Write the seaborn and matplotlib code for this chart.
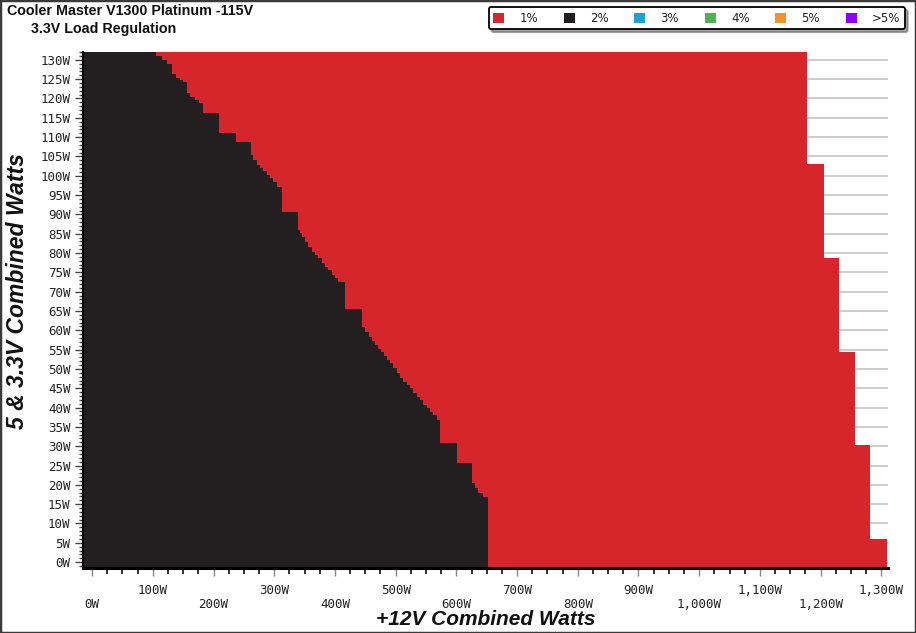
import numpy as np
import pandas as pd
import seaborn as sns
import matplotlib.pyplot as plt
from matplotlib.patches import Patch, Rectangle
from matplotlib.ticker import MultipleLocator

# chart values (watts), rows listed bottom -> top
y_min, y_max = -1.6, 132.1
x_min, x_max = -15, 1311

# 2% region: upper edge of each row and how far right it reaches
black_top = [16.8, 17.9, 19.2, 20.5, 25.6, 30.8, 36.8, 38.1, 38.9, 39.8, 40.7, 41.9,
             42.8, 43.7, 45.0, 45.8, 46.7, 47.6, 48.9, 50.2, 51.5, 52.3, 53.4, 54.3,
             55.2, 56.1, 57.2, 58.3, 59.6, 60.9, 65.6, 72.5, 73.5, 74.3, 75.6, 76.4,
             77.4, 78.7, 79.5, 80.3, 81.6, 82.9, 84.2, 85.2, 86.0, 90.6, 97.1, 98.4,
             99.4, 100.2, 101.2, 102.0, 102.8, 104.1, 105.4, 108.8, 111.1, 116.3, 118.9,
             119.6, 120.4, 121.4, 124.3, 124.8, 125.3, 126.4, 129.0, 130.0, 131.0, 132.1]
black_edge = [652.9, 644.6, 636.4, 631.0, 625.5, 600.8, 573.3, 567.9, 562.3, 556.8,
              551.4, 545.8, 540.4, 534.9, 529.3, 523.9, 518.5, 512.9, 507.4, 502.0,
              496.4, 491.0, 486.0, 481.1, 476.1, 471.2, 466.2, 461.3, 456.3, 449.8,
              444.3, 416.8, 405.8, 400.3, 394.9, 389.3, 383.9, 378.4, 372.8, 367.4,
              361.9, 356.3, 350.9, 345.5, 342.7, 339.9, 313.0, 304.3, 298.7, 293.2,
              287.8, 282.2, 276.8, 271.3, 265.2, 261.4, 237.2, 209.7, 183.4, 176.3,
              169.7, 161.4, 157.0, 149.9, 145.0, 138.4, 131.3, 124.1, 114.8, 105.4]

# 1% region
red_top = [6.0, 30.3, 54.4, 78.7, 103.1, 132.1]
red_edge = [1310, 1282, 1257, 1231, 1205, 1178]

legend_labels = ["1%", "2%", "3%", "4%", "5%", ">5%"]
legend_colors = ["#d7262b", "#231f20", "#1ca3d6", "#4db350", "#f29322", "#8f00ff"]

x_ticks = [0, 100, 200, 300, 400, 500, 600, 700, 800, 900, 1000, 1100, 1200, 1300]
x_tick_labels = ["0W", "100W", "200W", "300W", "400W", "500W", "600W", "700W",
                 "800W", "900W", "1,000W", "1,100W", "1,200W", "1,300W"]
y_ticks = list(range(0, 131, 5))
y_tick_labels = [f"{v}W" for v in y_ticks]


def rows(tops, edges):
    df = pd.DataFrame({"top": tops, "edge": edges})
    df["bottom"] = [y_min] + tops[:-1]
    df["height"] = df["top"] - df["bottom"]
    return df


sns.set_theme(style="white")
plt.rcParams["font.family"] = ["Liberation Sans", "DejaVu Sans"]

fig = plt.figure(figsize=(9.16, 6.33), dpi=100)
ax = fig.add_axes([0.0906, 0.1022, 0.8788, 0.8161])

red = rows(red_top, red_edge)
black = rows(black_top, black_edge)
ax.barh(red["bottom"], red["edge"] - x_min, left=x_min, height=red["height"],
        align="edge", color=legend_colors[0], linewidth=0, antialiased=False, zorder=2)
ax.barh(black["bottom"], black["edge"] - x_min, left=x_min, height=black["height"],
        align="edge", color=legend_colors[1], linewidth=0, antialiased=False, zorder=3)

ax.set_xlim(x_min, x_max)
ax.set_ylim(y_min, y_max)

# axes styling
for side in ["top", "right"]:
    ax.spines[side].set_visible(False)
ax.spines["left"].set_color("black")
ax.spines["left"].set_linewidth(1.5)
ax.spines["bottom"].set_color("black")
ax.spines["bottom"].set_linewidth(2.2)
ax.spines["left"].set_zorder(5)
ax.spines["bottom"].set_zorder(5)

ax.set_yticks(y_ticks)
ax.set_yticklabels(y_tick_labels)
ax.yaxis.set_minor_locator(MultipleLocator(1))
ax.set_xticks(x_ticks)
ax.set_xticklabels([("\n" + t) if i % 2 == 0 else t for i, t in enumerate(x_tick_labels)])
ax.xaxis.set_minor_locator(MultipleLocator(25))

tick_font = dict(family="DejaVu Sans Mono", size=9, color="#222222")
for lab in ax.get_yticklabels() + ax.get_xticklabels():
    lab.set_fontfamily(tick_font["family"])
    lab.set_fontsize(tick_font["size"])
    lab.set_color(tick_font["color"])
    lab.set_linespacing(1.15)

ax.tick_params(axis="y", which="major", direction="out", length=6, width=1,
               color="#444444", left=True, pad=3)
ax.tick_params(axis="y", which="minor", direction="out", length=3, width=1,
               color="#444444", left=True)
ax.tick_params(axis="x", which="major", direction="out", length=6, width=1,
               color="#888888", bottom=True, pad=5)
ax.tick_params(axis="x", which="minor", direction="out", length=4, width=1.2,
               color="#111111", bottom=True)

ax.yaxis.grid(True, which="major", color="#c4c4c4", linewidth=1.2)
ax.xaxis.grid(False)
ax.set_axisbelow(True)

# titles and axis labels
fig.text(0.0076, 0.9834, "Cooler Master V1300 Platinum -115V", fontsize=10.3,
         weight="bold", color="#111111", va="center", ha="left")
fig.text(0.0338, 0.954, "3.3V Load Regulation", fontsize=10.3,
         weight="bold", color="#111111", va="center", ha="left")
fig.text(0.530, 0.0221, "+12V Combined Watts", fontsize=15, weight="bold",
         style="italic", color="#111111", va="center", ha="center")
fig.text(0.019, 0.540, "5 & 3.3V Combined Watts", fontsize=16.5, weight="bold",
         style="italic", color="#111111", va="center", ha="center", rotation=90)

# legend
handles = [Patch(facecolor=c, edgecolor="none") for c in legend_colors]
leg = fig.legend(handles, legend_labels, loc="upper right", bbox_to_anchor=(0.988, 0.989),
                 ncol=6, frameon=True, fancybox=True, shadow=True, fontsize=8.5,
                 handlelength=0.9, handleheight=0.9, handletextpad=1.3,
                 columnspacing=2.2, borderpad=0.4, borderaxespad=0)
leg.get_frame().set_edgecolor("black")
leg.get_frame().set_linewidth(1.3)
for t in leg.get_texts():
    t.set_fontfamily("DejaVu Sans")
    t.set_color("#222222")

# outer border
fig.patches.append(Rectangle((0, 0), 1, 1, transform=fig.transFigure, fill=False,
                             edgecolor="#3a3a3a", linewidth=2.5))

fig.savefig("out.png", dpi=100)
